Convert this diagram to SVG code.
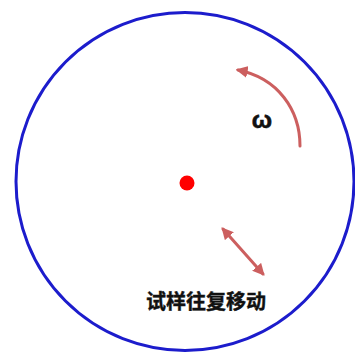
<svg xmlns="http://www.w3.org/2000/svg" width="355" height="352" viewBox="0 0 355 352">
<style>
.arw{fill:none;stroke:#cc5f5f;stroke-width:3;stroke-linecap:round}
.lbl{font-family:"Liberation Sans","Noto Sans CJK SC",sans-serif;font-weight:bold;fill:#111}
</style>
<defs>
<marker id="ah" viewBox="0 0 10 10" refX="8" refY="5" markerWidth="4" markerHeight="4" orient="auto-start-reverse" markerUnits="strokeWidth">
<path d="M0,0 L10,5 L0,10 z" fill="#cc5f5f"/>
</marker>
</defs>
<rect width="355" height="352" fill="#fff"/>
<g id="disk"><circle cx="185" cy="181.5" r="169" fill="none" stroke="#1c1ccc" stroke-width="3"/></g>
<g id="center"><circle cx="187" cy="183" r="7.5" fill="#ff0000"/></g>
<g id="connectors">
<path class="arw" d="M300,146 C300,110 278,78 238,70" marker-end="url(#ah)"/>
<path class="arw" d="M223,229 L263,274" marker-start="url(#ah)" marker-end="url(#ah)"/>
</g>
<g id="omega"><text class="lbl" x="262" y="128" font-size="24" text-anchor="middle" stroke="#111" stroke-width="0.6">ω</text></g>
<g id="label"><text class="lbl" x="206" y="309" font-size="20" text-anchor="middle" stroke="#111" stroke-width="0.4">试样往复移动</text></g>
</svg>
